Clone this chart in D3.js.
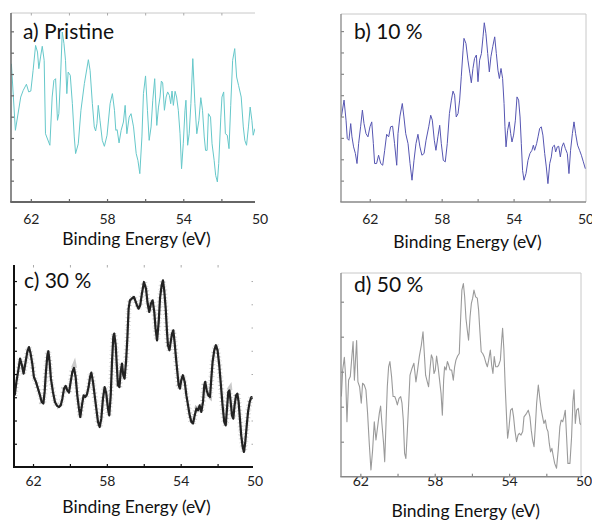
<!DOCTYPE html>
<html>
<head>
<meta charset="utf-8">
<script src="https://cdn.jsdelivr.net/npm/d3@7"></script>
<style>
  body { margin: 0; background: #fff; }
  svg { display: block; font-family: Lato, "Open Sans", sans-serif; }
</style>
</head>
<body>
<script>
// binding energy (eV) and intensity (arb. units)
const energyA = [
  63.02,62.81,62.53,62.40,62.23,62.11,62.00,61.88,61.75,61.65,
  61.58,61.49,61.40,61.30,61.23,61.00,60.88,60.79,60.70,60.60,
  60.53,60.44,60.35,60.26,60.18,60.11,60.04,59.93,59.82,59.72,
  59.65,59.51,59.37,59.19,58.98,58.89,58.77,58.67,58.60,58.53,
  58.46,58.37,58.25,58.14,58.00,57.84,57.72,57.61,57.54,57.47,
  57.37,57.26,57.14,57.05,56.96,56.84,56.74,56.61,56.47,56.38,
  56.28,56.17,56.09,55.98,55.88,55.79,55.69,55.60,55.50,55.39,
  55.30,55.22,55.15,55.08,54.99,54.90,54.82,54.73,54.66,54.59,
  54.52,54.43,54.35,54.26,54.17,54.09,54.00,53.91,53.86,53.77,
  53.69,53.60,53.50,53.39,53.29,53.18,53.08,52.99,52.90,52.83,
  52.75,52.68,52.57,52.49,52.38,52.30,52.21,52.14,52.03,51.97,
  51.88,51.79,51.69,51.60,51.51,51.41,51.30,51.20,51.10,50.96,
  50.85,50.77,50.68,50.58,50.49,50.40,50.33,50.24]
const countsA = [
  648,336,492,523,552,516,520,617,734,703,
  625,680,730,664,320,266,492,570,578,383,
  414,586,797,742,664,508,609,594,461,305,
  227,273,430,555,667,617,461,352,333,367,
  453,383,289,261,313,461,508,430,336,339,
  277,336,375,453,320,398,414,352,227,195,
  133,305,508,591,430,289,352,477,578,359,
  445,492,567,558,430,492,516,500,461,520,
  453,519,492,430,320,156,273,430,477,266,
  320,461,672,461,320,383,489,430,305,242,
  242,414,398,273,195,125,94,180,398,492,
  516,320,313,250,453,664,719,586,547,492,
  352,289,266,352,445,383,313,344]

const energyB = [
  63.58,63.43,63.32,63.25,63.16,63.06,62.99,62.90,62.80,62.71,
  62.62,62.51,62.41,62.32,62.21,62.10,61.99,61.89,61.80,61.73,
  61.62,61.51,61.39,61.28,61.17,61.06,60.95,60.84,60.73,60.62,
  60.50,60.43,60.32,60.19,60.10,60.00,59.87,59.76,59.65,59.54,
  59.43,59.32,59.21,59.10,58.98,58.87,58.72,58.61,58.52,58.41,
  58.32,58.21,58.11,58.02,57.91,57.80,57.69,57.57,57.46,57.37,
  57.28,57.19,57.09,57.00,56.91,56.81,56.76,56.65,56.54,56.43,
  56.35,56.26,56.17,56.07,55.98,55.89,55.79,55.70,55.63,55.54,
  55.44,55.35,55.26,55.16,55.05,54.96,54.87,54.79,54.70,54.61,
  54.53,54.48,54.42,54.33,54.24,54.16,54.09,54.00,53.90,53.81,
  53.72,53.64,53.57,53.50,53.42,53.31,53.20,53.09,52.98,52.90,
  52.83,52.72,52.64,52.55,52.46,52.37,52.27,52.18,52.09,51.99,
  51.90,51.83,51.73,51.66,51.57,51.49,51.40,51.31,51.22,51.12,
  51.01,50.92,50.83,50.73,50.64,50.55,50.44,50.33,50.23,50.12,
  50.01]
const countsB = [
  398,477,383,297,289,367,305,258,227,180,
  273,352,430,367,320,305,352,375,273,180,
  180,219,180,172,242,317,305,352,355,273,
  172,320,402,461,398,320,273,180,102,195,
  273,317,258,219,227,289,352,406,383,289,
  242,305,359,273,195,188,273,414,477,519,
  500,398,414,477,586,711,766,742,664,602,
  558,625,672,688,563,664,695,773,839,789,
  695,609,680,727,773,695,617,578,625,578,
  461,352,258,336,375,320,281,313,383,492,
  477,398,273,148,102,133,195,227,242,266,
  242,273,305,344,352,313,227,164,86,180,
  211,258,266,234,258,261,211,258,277,250,
  227,133,242,320,375,320,266,242,219,188,
  156]

const energyC = [
  62.99,62.90,62.81,62.70,62.60,62.51,62.40,62.31,62.22,62.13,
  62.04,61.95,61.84,61.73,61.62,61.53,61.44,61.37,61.30,61.22,
  61.17,61.10,61.03,60.92,60.81,60.70,60.59,60.50,60.41,60.32,
  60.23,60.14,60.05,59.96,59.87,59.78,59.69,59.60,59.51,59.44,
  59.35,59.26,59.17,59.08,58.99,58.91,58.84,58.75,58.66,58.57,
  58.48,58.39,58.30,58.21,58.12,58.03,57.94,57.87,57.79,57.72,
  57.65,57.60,57.52,57.45,57.40,57.32,57.25,57.18,57.11,57.04,
  56.96,56.89,56.82,56.75,56.64,56.53,56.37,56.28,56.19,56.10,
  55.99,55.88,55.79,55.70,55.61,55.52,55.43,55.36,55.28,55.19,
  55.12,55.03,54.96,54.89,54.81,54.74,54.69,54.61,54.54,54.47,
  54.40,54.33,54.25,54.18,54.11,54.04,53.97,53.88,53.78,53.69,
  53.60,53.51,53.42,53.33,53.24,53.15,53.06,52.97,52.88,52.79,
  52.72,52.67,52.59,52.50,52.41,52.34,52.27,52.18,52.09,52.00,
  51.91,51.82,51.73,51.64,51.56,51.49,51.42,51.36,51.29,51.22,
  51.15,51.08,51.00,50.93,50.86,50.79,50.72,50.64,50.57,50.50,
  50.42,50.35,50.26,50.17,50.10]
const countsC = [
  308,366,409,466,438,402,452,495,516,488,
  445,387,366,337,308,280,273,323,409,481,
  498,452,380,323,280,263,258,265,294,337,
  349,330,320,366,409,426,387,308,251,215,
  265,308,301,311,344,387,406,366,308,251,
  194,172,208,294,344,316,251,222,308,452,
  560,574,524,423,352,344,409,445,395,380,
  452,552,681,717,725,732,696,681,696,746,
  796,768,703,667,703,717,667,595,545,624,
  725,782,803,760,681,581,524,502,538,574,
  588,538,466,409,352,337,373,395,366,308,
  265,222,194,187,222,251,244,265,237,280,
  352,366,330,308,301,380,452,502,524,502,
  438,352,265,194,179,251,323,330,280,222,
  208,265,308,316,280,208,136,86,65,108,
  179,237,280,301,294]

const energyD = [
  63.02,62.95,62.86,62.79,62.72,62.63,62.54,62.47,62.39,62.32,
  62.27,62.20,62.13,62.04,61.95,61.88,61.79,61.70,61.61,61.52,
  61.43,61.34,61.25,61.16,61.07,60.98,60.91,60.84,60.75,60.69,
  60.62,60.55,60.48,60.41,60.32,60.24,60.15,60.08,60.01,59.92,
  59.83,59.76,59.69,59.62,59.55,59.47,59.40,59.33,59.22,59.12,
  59.01,58.92,58.83,58.72,58.63,58.56,58.49,58.40,58.33,58.26,
  58.18,58.11,58.04,57.97,57.90,57.82,57.75,57.66,57.59,57.52,
  57.47,57.39,57.32,57.25,57.18,57.09,57.00,56.93,56.86,56.77,
  56.68,56.61,56.54,56.46,56.39,56.32,56.25,56.18,56.10,56.03,
  55.96,55.89,55.80,55.71,55.64,55.57,55.50,55.42,55.34,55.24,
  55.17,55.10,55.01,54.94,54.87,54.80,54.72,54.63,54.56,54.47,
  54.40,54.35,54.28,54.21,54.13,54.08,54.01,53.92,53.83,53.76,
  53.69,53.60,53.52,53.45,53.36,53.27,53.20,53.13,53.06,52.97,
  52.88,52.81,52.74,52.66,52.59,52.52,52.43,52.34,52.27,52.20,
  52.13,52.05,51.98,51.91,51.84,51.77,51.70,51.62,51.55,51.45,
  51.36,51.27,51.20,51.12,51.05,50.98,50.91,50.84,50.73,50.64,
  50.57,50.51,50.44,50.37,50.28,50.19,50.11]
const countsD = [
  229,305,341,286,157,276,286,333,386,276,
  324,389,271,257,210,267,262,248,181,95,
  19,76,157,105,143,181,202,152,95,43,
  152,257,314,329,286,229,229,219,205,224,
  229,210,162,67,52,133,210,290,310,324,
  271,305,343,376,414,352,290,271,257,305,
  348,338,295,305,345,314,281,238,176,276,
  314,305,329,319,305,305,276,314,333,345,
  352,448,533,552,514,452,419,390,457,495,
  510,533,514,510,476,414,357,352,343,324,
  314,333,362,319,295,343,314,314,319,333,
  390,424,362,257,162,110,138,190,195,171,
  133,100,119,124,119,129,171,176,181,190,
  171,133,105,86,143,210,262,219,190,171,
  152,162,138,129,95,71,81,57,38,24,
  76,143,162,157,171,190,114,38,38,114,
  214,248,152,190,195,152,148]

const panelTitles = ["a) Pristine", "b) 10 %", "c) 30 %", "d) 50 %"]
const axisTitle = "Binding Energy (eV)"
const energyTickMarks = [62, 60, 58, 56, 54, 52]
const energyTickLabels = [62, 58, 54, 50]
const countTicks = [100, 200, 300, 400, 500, 600, 700, 800]
const countTicksD = [100, 200, 300, 400, 500]

const svg = d3.select("body").append("svg").attr("width", 592).attr("height", 520)

// layout of the four panels (pixel frame, colours)
const panels = [
    {id: "a", energy: energyA, counts: countsA, title: panelTitles[0], yTicks: countTicks,
     left: 11, right: 259.5, clipRight: 255, top: 13, bottom: 202, eMax: 63.04, cMax: 886,
     color: "#66c8ca", lw: 1, axisColor: "#666", leftW: 1.5, bottomW: 2, box: "top", faint: true,
     label: [23, 39], labelY: 22, titleXY: [136.5, 245]},
    {id: "b", energy: energyB, counts: countsB, title: panelTitles[1], yTicks: countTicks,
     left: 341, right: 585.5, clipRight: 586, top: 14, bottom: 202, eMax: 63.6, cMax: 880,
     color: "#5656b2", lw: 1, axisColor: "#888", leftW: 1.3, bottomW: 1.5, box: "full", faint: false,
     label: [354, 39], labelY: 22, titleXY: [467.5, 248]},
    {id: "c", energy: energyC, counts: countsC, title: panelTitles[2], yTicks: countTicks,
     left: 14, right: 254.5, clipRight: 253, top: 265, bottom: 467, eMax: 63.03, cMax: 869,
     color: "#222", lw: 2.2, axisColor: "#111", leftW: 2, bottomW: 2, box: "none", faint: true,
     label: [24, 288], labelY: 19, titleXY: [136.5, 513]},
    {id: "d", energy: energyD, counts: countsD, title: panelTitles[3], yTicks: countTicksD,
     left: 341, right: 583.5, clipRight: 581, top: 273, bottom: 476.7, eMax: 63.04, cMax: 582,
     color: "#9a9a9a", lw: 1.1, axisColor: "#888", leftW: 1.3, bottomW: 1.5, box: "full", faint: false,
     label: [354, 292], labelY: 9, titleXY: [465.7, 517]}
]

panels.forEach(p => {
    const x = d3.scaleLinear().domain([p.eMax, 50]).range([p.left, p.right]),
        y = d3.scaleLinear().domain([0, p.cMax]).range([p.bottom, p.top]),
        g = svg.append("g").attr("class", "panel-" + p.id)

    g.append("clipPath").attr("id", "clip-" + p.id)
        .append("rect")
        .attr("x", p.left).attr("y", p.top)
        .attr("width", p.clipRight - p.left).attr("height", p.bottom - p.top)

    // light frame lines
    if (p.box != "none") {
        g.append("line").attr("x1", p.left).attr("x2", p.clipRight).attr("y1", p.top).attr("y2", p.top)
            .attr("stroke", "#c8c8c8").attr("stroke-width", 1)
    }
    if (p.box == "full") {
        g.append("line").attr("x1", p.clipRight).attr("x2", p.clipRight).attr("y1", p.top).attr("y2", p.bottom)
            .attr("stroke", "#c8c8c8").attr("stroke-width", 1)
    }

    const data = d3.zip(p.energy, p.counts),
        line = d3.line().x(d => x(d[0])).y(d => y(d[1]))

    const plot = g.append("g").attr("clip-path", `url(#clip-${p.id})`)
    if (p.id == "c") {
        // raw points scattered round the smoothed trace
        plot.append("path").datum(data).attr("d", line)
            .attr("fill", "none").attr("stroke", "#8a8a8a").attr("stroke-width", 6)
            .attr("stroke-dasharray", "0.6 3.4").attr("opacity", 0.45)
        plot.append("path").datum(data).attr("d", line)
            .attr("fill", "none").attr("stroke", "#777").attr("stroke-width", 4)
            .attr("stroke-dasharray", "0.6 2.6").attr("stroke-dashoffset", 1.5).attr("opacity", 0.45)
    }
    plot.append("path").datum(data).attr("d", line)
        .attr("fill", "none").attr("stroke", p.color).attr("stroke-width", p.lw)
        .attr("stroke-linejoin", "round")

    // tick marks pointing inward
    g.append("g").attr("transform", `translate(0,${p.bottom})`)
        .call(d3.axisBottom(x).tickValues(energyTickMarks).tickSize(-3).tickFormat(""))
        .call(a => a.select(".domain").remove())
        .selectAll("line").attr("stroke", p.axisColor).attr("stroke-width", 1.2)
    g.append("g").attr("transform", `translate(${p.left},0)`)
        .call(d3.axisLeft(y).tickValues(p.yTicks).tickSize(-3).tickFormat(""))
        .call(a => a.select(".domain").remove())
        .selectAll("line").attr("stroke", p.axisColor).attr("stroke-width", 1.2)
    if (p.faint) {
        g.append("g").attr("transform", `translate(0,${p.top})`)
            .call(d3.axisTop(x).tickValues(energyTickMarks).tickSize(-2.5).tickFormat(""))
            .call(a => a.select(".domain").remove())
            .selectAll("line").attr("stroke", "#aaa")
    }
    if (p.id == "c") {
        g.append("g").attr("transform", `translate(${p.clipRight},0)`)
            .call(d3.axisRight(y).tickValues(p.yTicks).tickSize(-1.5).tickFormat(""))
            .call(a => a.select(".domain").remove())
            .selectAll("line").attr("stroke", "#aaa")
    }

    // tick labels
    g.append("g").attr("transform", `translate(0,${p.bottom})`)
        .call(d3.axisBottom(x).tickValues(energyTickLabels).tickSize(0).tickFormat(d3.format("d")))
        .attr("font-family", null).attr("font-size", null)
        .call(a => a.select(".domain").remove())
        .call(a => a.selectAll("text")
            .attr("y", p.labelY).attr("dy", null)
            .attr("font-size", 14).attr("fill", "#222"))

    // axis lines
    g.append("line").attr("x1", p.left).attr("x2", p.left).attr("y1", p.top).attr("y2", p.bottom)
        .attr("stroke", p.axisColor).attr("stroke-width", p.leftW)
    g.append("line").attr("x1", p.left - p.leftW / 2).attr("x2", p.clipRight).attr("y1", p.bottom).attr("y2", p.bottom)
        .attr("stroke", p.axisColor).attr("stroke-width", p.bottomW)

    g.append("text").text(p.title)
        .attr("x", p.label[0]).attr("y", p.label[1])
        .attr("font-size", 21).attr("fill", "#111")

    g.append("text").text(axisTitle)
        .attr("x", p.titleXY[0]).attr("y", p.titleXY[1])
        .attr("text-anchor", "middle")
        .attr("font-size", 17.5).attr("fill", "#111")
})
</script>
</body>
</html>
